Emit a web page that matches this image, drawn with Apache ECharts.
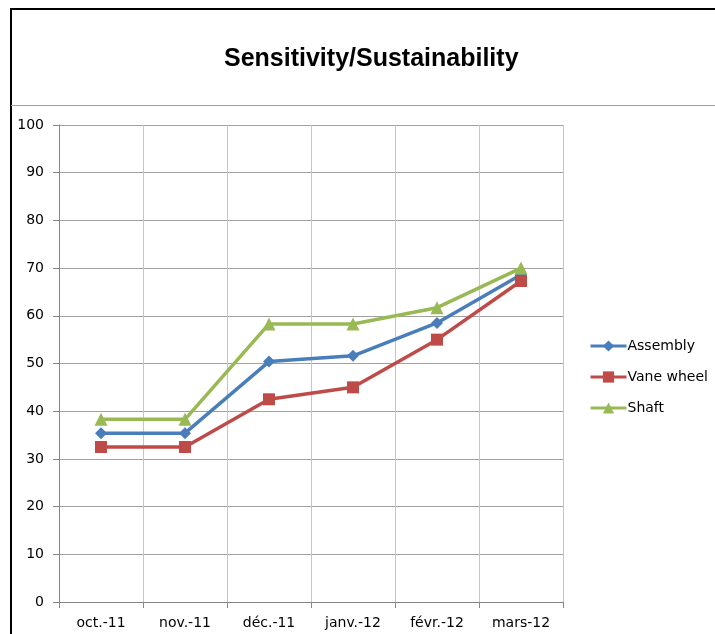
<!DOCTYPE html>
<html><head><meta charset="utf-8">
<script src="https://cdn.jsdelivr.net/npm/echarts@6/dist/echarts.min.js"></script>
<style>html,body{margin:0;padding:0;background:#fff}#c{width:715px;height:634px}</style>
</head><body><div id="c"></div>
<script>
const categories = ['oct.-11','nov.-11','déc.-11','janv.-12','févr.-12','mars-12'];
const assembly = [35.4, 35.4, 50.4, 51.6, 58.5, 68.6];
const vaneWheel = [32.5, 32.5, 42.5, 45.0, 55.0, 67.3];
const shaft = [38.3, 38.3, 58.3, 58.3, 61.7, 70.0];
const yTicks = [0,10,20,30,40,50,60,70,80,90,100];

const chart = echarts.init(document.getElementById('c'), null, {renderer:'canvas'});
const tfont = 'Liberation Sans, Arial, sans-serif';
const lfont = 'DejaVu Sans, sans-serif';
chart.setOption({
  animation:false,
  title:{text:'Sensitivity/Sustainability', left:219, top:42,
    textStyle:{fontFamily:tfont, fontSize:25, fontWeight:'bold', color:'#000'}},
  legend:{orient:'vertical', left:584, top:334, itemWidth:36, itemHeight:14, itemGap:17,
    lineStyle:{width:3},
    textStyle:{fontFamily:lfont, fontSize:14, lineHeight:14, color:'#000', padding:[0,0,0,-4]},
    data:['Assembly','Vane wheel','Shaft']},
  grid:{left:59, right:152, top:125, bottom:32},
  xAxis:{type:'category', data:categories, boundaryGap:true,
    axisLine:{lineStyle:{color:'#868686', width:1}},
    axisTick:{show:true, length:6, lineStyle:{color:'#868686'}},
    axisLabel:{fontFamily:lfont, fontSize:14, color:'#000', margin:14},
    splitLine:{show:true, lineStyle:{color:'#c6c6c6', width:1}}},
  yAxis:{type:'value', min:yTicks[0], max:yTicks[yTicks.length-1], interval:10,
    axisLine:{show:true, lineStyle:{color:'#868686', width:1}},
    axisTick:{show:true, length:6, lineStyle:{color:'#868686'}},
    axisLabel:{fontFamily:lfont, fontSize:14, color:'#000', margin:15},
    splitLine:{show:true, lineStyle:{color:'#a0a0a0', width:1}}},
  series:[
    {name:'Assembly', type:'line', data:assembly, symbol:'diamond', symbolSize:12,
      itemStyle:{color:'#4A7EBB'}, lineStyle:{width:3.5, color:'#4A7EBB'}},
    {name:'Vane wheel', type:'line', data:vaneWheel, symbol:'rect', symbolSize:12,
      itemStyle:{color:'#BE4B48'}, lineStyle:{width:3.5, color:'#BE4B48'}},
    {name:'Shaft', type:'line', data:shaft, symbol:'triangle', symbolSize:13,
      itemStyle:{color:'#98B954'}, lineStyle:{width:3.5, color:'#98B954'}}
  ],
  graphic:[
    {type:'line', shape:{x1:10,y1:9,x2:715,y2:9}, style:{stroke:'#000', lineWidth:2}},
    {type:'line', shape:{x1:11,y1:8,x2:11,y2:634}, style:{stroke:'#000', lineWidth:2}},
    {type:'line', shape:{x1:11,y1:105.5,x2:715,y2:105.5}, style:{stroke:'#a0a0a0', lineWidth:1}}
  ]
});
</script></body></html>
